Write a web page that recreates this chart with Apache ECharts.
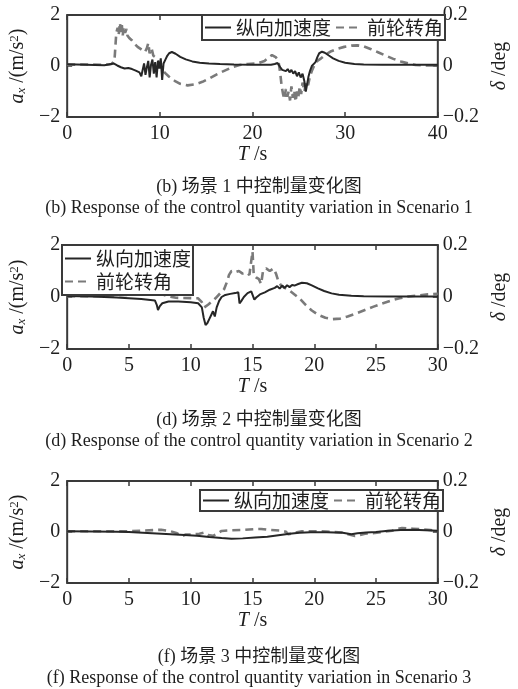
<!DOCTYPE html>
<html>
<head>
<meta charset="utf-8">
<script src="https://cdn.jsdelivr.net/npm/echarts@6/dist/echarts.min.js"></script>
<style>
  html, body { margin: 0; padding: 0; background: #fff; }
  #chart { width: 518px; height: 689px; }
</style>
</head>
<body>
<div id="chart"></div>
<script>
// Series names
const accelName = '纵向加速度';
const steerName = '前轮转角';

// Scenario 1: [time (s), longitudinal acceleration (m/s^2)]
const accel1 = [
  [0,0.07],[1,0.06],[2,0.05],[3,0.04],[4,0.03],[4.5,0.06],[5,0.1],[5.4,0.02],[5.8,-0.05],[6.2,-0.1],
  [6.6,-0.08],[7,-0.12],[7.4,-0.18],[7.8,-0.25],[8,-0.4],[8.15,-0.15],[8.3,0.1],[8.45,-0.35],[8.6,-0.05],[8.75,0.2],
  [8.9,-0.45],[9.05,0.05],[9.2,0.25],[9.35,-0.3],[9.5,0.15],[9.65,-0.45],[9.8,0.2],[9.95,-0.1],[10.1,0.3],[10.25,-0.55],
  [10.4,0.1],[10.6,0.25],[10.8,0.4],[11,0.5],[11.3,0.55],[11.7,0.48],[12.2,0.36],[12.8,0.26],[13.5,0.18],[14.3,0.13],
  [15.3,0.1],[16.5,0.08],[18,0.06],[20,0.05],[22,0.05],[22.4,0.08],[22.7,0.12],[23,-0.05],[23.2,-0.15],[23.4,-0.08],
  [23.6,-0.2],[23.8,-0.12],[24,-0.25],[24.2,-0.15],[24.4,-0.3],[24.6,-0.2],[24.8,-0.4],[25,-0.25],[25.2,-0.45],[25.4,-0.3],
  [25.6,-0.6],[25.75,-1.0],[25.9,-0.7],[26.05,-0.4],[26.2,-0.2],[26.4,0],[26.6,0.05],[26.8,0.15],[27,0.35],[27.2,0.5],
  [27.5,0.56],[27.8,0.52],[28.2,0.42],[28.7,0.3],[29.3,0.2],[30,0.13],[31,0.08],[32,0.06],[34,0.05],[36,0.05],[38,0.05],[40,0.05]
];
// Scenario 1: [time (s), front wheel angle (deg)]
const steer1 = [
  [0,0.005],[2,0.006],[4,0.005],[4.8,0.008],[5.1,0.02],[5.3,0.13],[5.45,0.15],[5.55,0.12],[5.7,0.17],[5.8,0.13],
  [5.9,0.16],[6,0.12],[6.1,0.155],[6.25,0.13],[6.4,0.145],[6.5,0.12],[6.7,0.11],[7,0.1],[7.2,0.09],[7.4,0.085],
  [7.6,0.075],[7.8,0.08],[8,0.065],[8.2,0.07],[8.4,0.055],[8.6,0.07],[8.75,0.09],[8.9,0.05],[9.1,0.07],[9.3,0.04],
  [9.5,0.045],[9.7,0.03],[10,0.005],[10.5,-0.025],[11,-0.042],[11.6,-0.058],[12.2,-0.07],[13,-0.076],[13.8,-0.072],[14.6,-0.062],
  [15.4,-0.048],[16.2,-0.032],[17,-0.018],[17.8,-0.005],[18.6,0.004],[19.5,0.008],[20.5,0.01],[21.3,0.02],[21.8,0.035],[22.1,0.043],
  [22.5,0.035],[22.8,0.02],[23,-0.03],[23.15,-0.08],[23.3,-0.11],[23.45,-0.13],[23.6,-0.09],[23.75,-0.12],[23.9,-0.1],[24.05,-0.135],
  [24.2,-0.08],[24.35,-0.125],[24.5,-0.095],[24.65,-0.14],[24.8,-0.1],[24.95,-0.12],[25.1,-0.08],[25.25,-0.11],[25.4,-0.065],[25.6,-0.1],
  [25.8,-0.06],[26,-0.075],[26.2,-0.04],[26.4,-0.02],[26.7,0.005],[27,0.02],[27.4,0.03],[27.9,0.045],[28.5,0.058],[29.2,0.068],
  [29.9,0.075],[30.7,0.08],[31.3,0.081],[32,0.077],[32.8,0.066],[33.6,0.053],[34.4,0.04],[35.2,0.028],[36,0.018],[36.8,0.01],
  [37.6,0.004],[38.5,0.002],[40,0.002]
];

// Scenario 2
const accel2 = [
  [0,0.04],[2,0.02],[4,-0.02],[6,-0.08],[7.1,-0.13],[7.25,-0.3],[7.35,-0.5],[7.5,-0.35],[7.7,-0.24],[8.2,-0.17],
  [9,-0.17],[10,-0.2],[10.6,-0.24],[10.9,-0.4],[11.05,-0.8],[11.2,-1.08],[11.35,-1.0],[11.5,-0.85],[11.65,-0.7],[11.8,-0.55],
  [11.95,-0.75],[12.1,-0.4],[12.3,-0.15],[12.5,0],[12.8,0.08],[13.2,0.12],[13.6,0.15],[13.85,0.18],[13.95,-0.25],[14.1,-0.15],
  [14.3,0],[14.6,0.15],[14.9,0.22],[15.05,0.25],[15.15,-0.1],[15.3,-0.02],[15.6,0.1],[16,0.18],[16.4,0.28],[16.8,0.35],
  [17,0.42],[17.2,0.32],[17.4,0.44],[17.6,0.35],[17.8,0.45],[18,0.38],[18.2,0.46],[18.4,0.44],[18.7,0.5],[19,0.55],
  [19.4,0.53],[19.8,0.45],[20.3,0.33],[20.8,0.23],[21.4,0.14],[22,0.09],[23,0.05],[24,0.03],[26,0.02],[28,0.02],[30,0.02]
];
const steer2 = [
  [0,0.003],[2,0.003],[4,0.006],[5.5,0.01],[6.2,0.018],[7,0.015],[7.6,0.012],[8.1,0.004],[8.8,-0.003],[10.6,-0.005],
  [10.9,-0.02],[11.1,-0.04],[11.4,-0.03],[11.7,-0.018],[12,-0.005],[12.4,0.015],[12.7,0.03],[12.95,0.06],[13.1,0.085],[13.3,0.1],
  [13.6,0.095],[13.9,0.1],[14.2,0.09],[14.5,0.094],[14.75,0.085],[14.9,0.09],[15,0.175],[15.1,0.085],[15.3,0.075],[15.5,0.07],
  [15.7,0.05],[15.85,0.1],[16.1,0.11],[16.4,0.1],[16.7,0.11],[16.9,0.09],[17.1,0.06],[17.3,0.045],[17.6,0.035],[18,0.025],
  [18.4,0.01],[18.8,-0.005],[19.3,-0.03],[19.8,-0.052],[20.3,-0.068],[20.9,-0.08],[21.5,-0.085],[22.1,-0.083],[22.7,-0.075],[23.4,-0.063],
  [24.1,-0.05],[24.8,-0.037],[25.5,-0.025],[26.2,-0.014],[26.9,-0.005],[27.6,0.002],[28.4,0.006],[29.2,0.01],[30,0.012]
];

// Scenario 3
const accel3 = [
  [0,0.03],[2,0.02],[4,0.01],[5,0],[6.5,-0.04],[8,-0.08],[9.5,-0.12],[10.5,-0.15],[11.5,-0.2],[12.5,-0.24],
  [13.3,-0.26],[14.2,-0.25],[15.2,-0.22],[16.2,-0.19],[17.1,-0.13],[18,-0.07],[18.8,-0.03],[19.7,-0.01],[21,-0.01],[22.3,-0.03],
  [23,-0.09],[23.5,-0.05],[24.2,-0.02],[25,0],[26,0.05],[27,0.08],[28,0.09],[29,0.07],[30,0.05]
];
const steer3 = [
  [0,0.003],[3,0.003],[5,0.003],[6.3,0.006],[7.6,0.009],[8.3,0.004],[8.9,-0.005],[9.3,-0.016],[9.6,-0.01],[10,-0.01],
  [10.7,-0.007],[11.1,-0.002],[11.4,-0.012],[11.8,-0.015],[12.1,-0.008],[12.5,0.004],[13.3,0.007],[14.2,0.008],[15.1,0.011],[15.7,0.012],
  [16.4,0.008],[17.2,0.006],[17.7,0.001],[17.9,-0.009],[18.3,-0.004],[19,0.003],[20,0.003],[21,0.002],[22.3,-0.002],[22.9,-0.011],
  [23.3,-0.016],[23.7,-0.012],[24.1,-0.007],[24.9,-0.004],[25.7,0.002],[26.3,0.005],[26.7,0.011],[27.1,0.016],[27.5,0.014],[28,0.013],
  [28.8,0.01],[29.4,0.008],[30,0.004]
];

// Axis ranges and captions
const xMaxes = [40, 30, 30];
const xSteps = [10, 5, 5];
const accelRange = [-2, 2, 2];
const steerRange = [-0.2, 0.2, 0.2];
const captionsCN = ['(b) 场景 1 中控制量变化图', '(d) 场景 2 中控制量变化图', '(f) 场景 3 中控制量变化图'];
const captionsEN = [
  '(b) Response of the control quantity variation in Scenario 1',
  '(d) Response of the control quantity variation in Scenario 2',
  '(f) Response of the control quantity variation in Scenario 3'
];

const accelSets = [accel1, accel2, accel3];
const steerSets = [steer1, steer2, steer3];

const SERIF = '"Liberation Serif", "Times New Roman", serif';
const CJK = '"Noto Sans CJK SC", sans-serif';
const INK = '#1e1e1e';
const FRAME = '#3a3a3a';
const FS = 20;

const grids = [
  { left: 62, top: 15, width: 386, height: 102 },
  { left: 62, top: 245, width: 387, height: 104 },
  { left: 62, top: 481, width: 386, height: 102 }
];
const captionY = [[187, 208], [420, 441], [657, 678]];

function minusFmt(v, digits) {
  if (Math.abs(v) < 1e-9) return '0';
  const s = digits ? Math.abs(v).toFixed(digits) : String(Math.abs(v));
  return (v < 0 ? '\u2212' : '') + s;
}

const tickStyle = { show: true, inside: true, length: 5, lineStyle: { color: FRAME, width: 1.5 } };
const labelStyle = { fontFamily: SERIF, fontSize: FS, color: INK };
const hiddenLine = { show: false, onZero: false };

const xAxes = [], yAxes = [], series = [];
grids.forEach((g, i) => {
  g.show = true;
  g.borderColor = FRAME;
  g.borderWidth = 2;
  g.backgroundColor = 'transparent';
  g.containLabel = false;

  xAxes.push({
    type: 'value', gridIndex: i, position: 'bottom', min: 0, max: xMaxes[i], interval: xSteps[i],
    axisLine: hiddenLine, splitLine: { show: false }, axisTick: tickStyle,
    axisLabel: Object.assign({ margin: 7 }, labelStyle),
    name: '{it|T} /s', nameLocation: 'middle', nameGap: 26,
    nameTextStyle: { fontFamily: SERIF, fontSize: FS, color: INK,
      rich: { it: { fontFamily: SERIF, fontSize: FS, fontStyle: 'italic', color: INK } } }
  });
  xAxes.push({
    type: 'value', gridIndex: i, position: 'top', min: 0, max: xMaxes[i], interval: xSteps[i],
    axisLine: hiddenLine, splitLine: { show: false }, axisTick: tickStyle, axisLabel: { show: false }
  });
  yAxes.push({
    type: 'value', gridIndex: i, position: 'left', min: accelRange[0], max: accelRange[1], interval: accelRange[2],
    axisLine: hiddenLine, splitLine: { show: false }, axisTick: tickStyle,
    axisLabel: Object.assign({ margin: 7, formatter: v => minusFmt(v, 0) }, labelStyle),
    name: '{it|a}{sub|x} /(m/s{sup|2})', nameLocation: 'middle', nameRotate: 90, nameGap: 30,
    nameTextStyle: { fontFamily: SERIF, fontSize: FS, color: INK,
      rich: {
        it: { fontFamily: SERIF, fontSize: FS, fontStyle: 'italic', color: INK },
        sub: { fontFamily: SERIF, fontSize: 13, fontStyle: 'italic', color: INK, verticalAlign: 'bottom' },
        sup: { fontFamily: SERIF, fontSize: 13, color: INK, verticalAlign: 'top' }
      } }
  });
  yAxes.push({
    type: 'value', gridIndex: i, position: 'right', min: steerRange[0], max: steerRange[1], interval: steerRange[2],
    axisLine: hiddenLine, splitLine: { show: false }, axisTick: tickStyle,
    axisLabel: Object.assign({ margin: 5, formatter: v => minusFmt(v, 1) }, labelStyle),
    name: '{it|δ} /deg', nameLocation: 'middle', nameRotate: 90, nameGap: 48,
    nameTextStyle: { fontFamily: SERIF, fontSize: FS, color: INK,
      rich: { it: { fontFamily: SERIF, fontSize: FS, fontStyle: 'italic', color: INK } } }
  });

  series.push({
    name: steerName, type: 'line', xAxisIndex: 2 * i, yAxisIndex: 2 * i + 1,
    data: steerSets[i], symbol: 'none', z: 2, animation: false,
    lineStyle: { color: '#7a7a7a', width: 2.6, type: [8, 5] }, itemStyle: { color: '#7a7a7a' }
  });
  series.push({
    name: accelName, type: 'line', xAxisIndex: 2 * i, yAxisIndex: 2 * i,
    data: accelSets[i], symbol: 'none', z: 3, animation: false,
    lineStyle: { color: '#262626', width: 2 }, itemStyle: { color: '#262626' }
  });
});

const legendBase = {
  data: [accelName, steerName],
  itemWidth: 26, itemHeight: 14, itemGap: 4,
  itemStyle: { opacity: 0 },
  backgroundColor: '#fff', borderColor: FRAME, borderWidth: 2, borderRadius: 0,
  textStyle: { fontFamily: CJK, fontSize: 19, color: INK, lineHeight: 21 },
  selectedMode: false
};
const legends = [
  Object.assign({}, legendBase, { left: 202, top: 15, orient: 'horizontal', padding: [2, 2] }),
  Object.assign({}, legendBase, { left: 62, top: 245, orient: 'vertical', padding: [3, 2], itemGap: 2 }),
  Object.assign({}, legendBase, { left: 200, top: 490, orient: 'horizontal', padding: [0, 2] })
];

const graphics = [];
captionsCN.forEach((t, i) => {
  graphics.push({ type: 'text', x: 259, y: captionY[i][0],
    style: { text: t, font: '18px ' + SERIF + ', ' + CJK, fill: INK, align: 'center', verticalAlign: 'middle' } });
  graphics.push({ type: 'text', x: 259, y: captionY[i][1],
    style: { text: captionsEN[i], font: '18px ' + SERIF, fill: INK, align: 'center', verticalAlign: 'middle' } });
});

const chart = echarts.init(document.getElementById('chart'), null, { renderer: 'canvas' });
chart.setOption({
  backgroundColor: '#fff',
  animation: false,
  grid: grids,
  xAxis: xAxes,
  yAxis: yAxes,
  legend: legends,
  series: series,
  graphic: graphics
});
</script>
</body>
</html>
